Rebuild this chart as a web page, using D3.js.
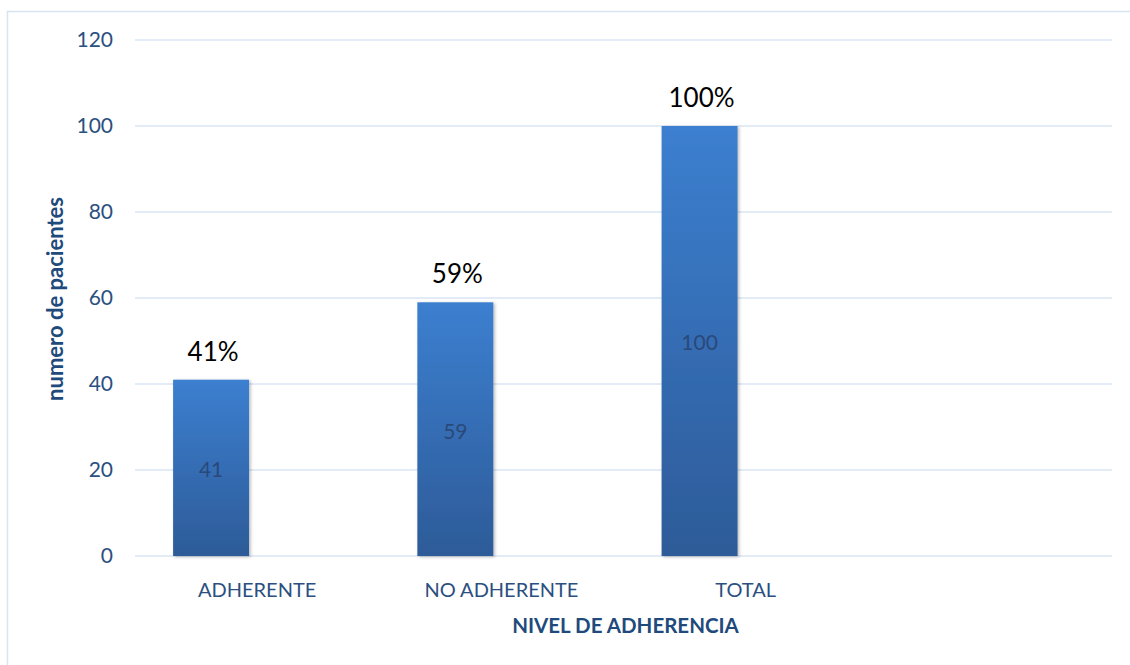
<!DOCTYPE html>
<html>
<head>
<meta charset="utf-8">
<script src="https://cdn.jsdelivr.net/npm/d3@7"></script>
<style>
  body { margin: 0; background: #fff; }
  svg { display: block; }
  svg text { font-family: Lato, "Open Sans", sans-serif; }
</style>
</head>
<body>
<div id="chart"></div>
<script>
// data
const categories = ["ADHERENTE", "NO ADHERENTE", "TOTAL", ""];
const pacientes = [41, 59, 100];
const porcentajes = ["41%", "59%", "100%"];
const yTicks = [0, 20, 40, 60, 80, 100, 120];

const W = 1130, H = 665;
const margin = {top: 40, right: 18, bottom: 109, left: 135},
    width = W - margin.left - margin.right,
    height = H - margin.top - margin.bottom;

const root = d3.select("#chart")
  .append("svg")
    .attr("width", W)
    .attr("height", H);

// frame (only top/left visible in the crop)
root.append("rect")
  .attr("x", 7.5).attr("y", 11.5)
  .attr("width", 1300).attr("height", 800)
  .attr("fill", "none")
  .attr("stroke", "#d9e4f3")
  .attr("stroke-width", 1.5);

const defs = root.append("defs");
const grad = defs.append("linearGradient")
  .attr("id", "barGrad")
  .attr("x1", 0).attr("y1", 0).attr("x2", 0).attr("y2", 1);
grad.append("stop").attr("offset", "0%").attr("stop-color", "#3c7fd0");
grad.append("stop").attr("offset", "100%").attr("stop-color", "#2d5b98");

const shadow = defs.append("filter").attr("id", "shadow")
  .attr("x", "-20%").attr("y", "-5%").attr("width", "140%").attr("height", "110%");
shadow.append("feDropShadow")
  .attr("dx", 1.5).attr("dy", 1)
  .attr("stdDeviation", 1.5)
  .attr("flood-color", "#000")
  .attr("flood-opacity", 0.28);

const svg = root.append("g")
  .attr("transform", `translate(${margin.left},${margin.top})`);

// scales
const x = d3.scaleBand()
  .domain(categories)
  .range([0, width]);

const y = d3.scaleLinear()
  .domain([0, 120])
  .range([height, 0]);

// bar slot inside each band (Excel clustered layout, left slot)
const bw = x.bandwidth();
const xs = d3.scaleBand()
  .domain(["pacientes", "hidden"])
  .range([bw * 0.156, bw * 0.778]);

// gridlines
svg.append("g")
  .selectAll("line")
  .data(yTicks)
  .join("line")
    .attr("x1", 0)
    .attr("x2", width)
    .attr("y1", d => y(d))
    .attr("y2", d => y(d))
    .attr("stroke", "#d9e4f3")
    .attr("stroke-width", 1.5);

// y axis labels
const yAxis = svg.append("g")
  .call(d3.axisLeft(y).tickValues(yTicks).tickSize(0).tickPadding(22));
yAxis.attr("font-family", null);
yAxis.select(".domain").remove();
yAxis.selectAll("text")
  .attr("fill", "#2b4f80")
  .style("font-size", "21px");

// x axis labels
const xAxis = svg.append("g")
  .attr("transform", `translate(0, ${height})`)
  .call(d3.axisBottom(x).tickSize(0));
xAxis.attr("font-family", null);
xAxis.select(".domain").remove();
xAxis.selectAll("text")
  .attr("y", 41)
  .attr("dy", 0)
  .attr("fill", "#2b4f80")
  .style("font-size", "20px");

// bars
const data = pacientes.map((v, i) => ({cat: categories[i], v: v, pct: porcentajes[i]}));

svg.append("g")
  .selectAll("rect")
  .data(data)
  .join("rect")
    .attr("x", d => x(d.cat) + xs("pacientes"))
    .attr("y", d => y(d.v))
    .attr("width", xs.bandwidth())
    .attr("height", d => height - y(d.v))
    .attr("fill", "url(#barGrad)")
    .attr("filter", "url(#shadow)");

// value labels inside bars
svg.append("g")
  .selectAll("text")
  .data(data)
  .join("text")
    .attr("x", d => x(d.cat) + xs("pacientes") + xs.bandwidth() / 2)
    .attr("y", d => y(d.v / 2))
    .attr("dy", "0.45em")
    .attr("text-anchor", "middle")
    .attr("fill", "#29497a")
    .style("font-size", "21px")
    .text(d => d.v);

// percentage labels above bars
svg.append("g")
  .selectAll("text")
  .data(data)
  .join("text")
    .attr("x", d => x(d.cat) + xs("pacientes") + xs.bandwidth() / 2 + 2)
    .attr("y", d => y(d.v) - 19)
    .attr("text-anchor", "middle")
    .attr("fill", "#000")
    .style("font-size", "26px")
    .text(d => d.pct);

// axis titles
svg.append("text")
  .attr("x", width / 2 + 2)
  .attr("y", height + 77)
  .attr("text-anchor", "middle")
  .attr("fill", "#214a7c")
  .style("font-size", "20.5px")
  .style("font-weight", "bold")
  .text("NIVEL DE ADHERENCIA");

svg.append("text")
  .attr("transform", `translate(${-72}, ${y(60) + 1}) rotate(-90)`)
  .attr("text-anchor", "middle")
  .attr("fill", "#214a7c")
  .style("font-size", "22px")
  .style("font-weight", "bold")
  .text("numero de pacientes");
</script>
</body>
</html>
